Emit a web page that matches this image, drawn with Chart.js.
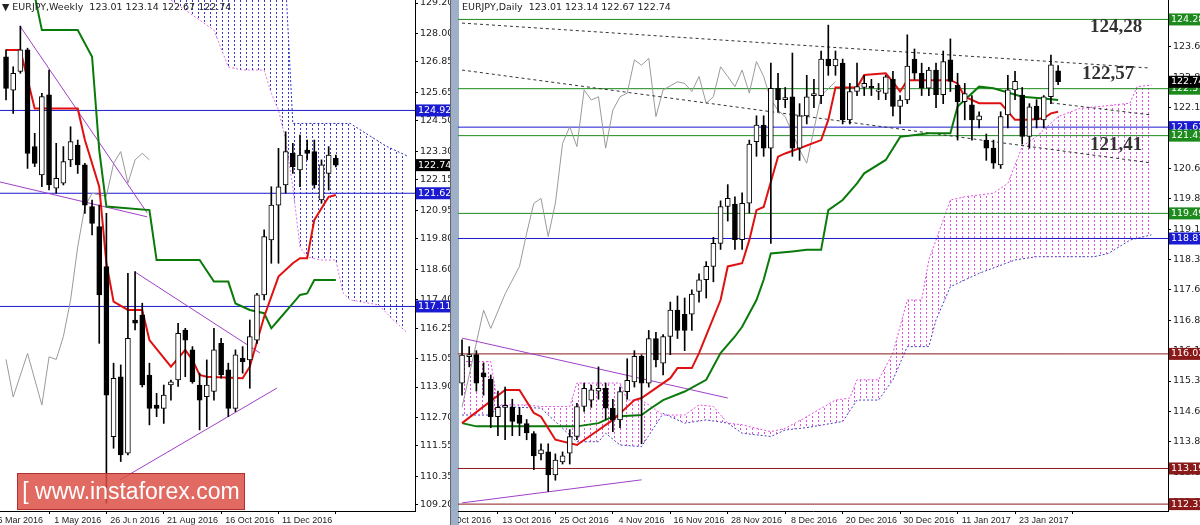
<!DOCTYPE html>
<html><head><meta charset="utf-8">
<script src="https://cdn.jsdelivr.net/npm/chart.js@4.4.0/dist/chart.umd.min.js"></script>
<style>
body{margin:0;width:1200px;height:525px;background:#fff;position:relative;overflow:hidden;font-family:"DejaVu Sans",sans-serif}
#wl{position:absolute;left:0;top:0;width:450px;height:525px}
#dvd{position:absolute;left:450px;top:0;width:8px;height:525px;background:#9db0c8;border-left:1px solid #666}
#rc{position:absolute;left:458px;top:0;width:742px;height:525px;overflow:hidden}
#dl{position:absolute;left:-30px;top:0;width:772px;height:525px}
.hdr{position:absolute;top:1px;font-size:9.5px;color:#222;white-space:pre}
#wm{position:absolute;left:17px;top:473px;width:226px;height:35px;background:rgba(220,80,70,0.85);color:#fff;font:23px "Liberation Sans",Arial,sans-serif;line-height:35px;text-align:center;border:1px solid #b03030}
.big{position:absolute;font:bold 19px "Liberation Serif",serif;color:#333}
</style></head><body>
<canvas id="wl" width="450" height="525"></canvas>
<div id="dvd"></div>
<div id="rc"><canvas id="dl" width="772" height="525"></canvas></div>
<div class="hdr" style="left:2px">▼ EURJPY,Weekly  123.01 123.14 122.67 122.74</div>
<div class="hdr" style="left:462px">EURJPY,Daily  123.01 123.14 122.67 122.74</div>
<div class="big" style="left:1090px;top:15px">124,28</div>
<div class="big" style="left:1082px;top:62px">122,57</div>
<div class="big" style="left:1090px;top:133px">121,41</div>
<div id="wm">[ www.instaforex.com ]</div>
<script>
// ===== Weekly (left) =====
const wOpen=[127.06,125.73,126.47,127.33,123.48,122.35,125.54,121.82,122.02,122.95,123.54,122.75,121.09,120.29,118.7,111.92,114.31,111.26,116.57,116.77,114.38,113.18,113.05,113.98,114.18,116.17,115.38,113.98,113.52,113.72,115.64,114.58,113.05,115.04,114.98,115.77,117.57,119.76,121.15,121.95,123.21,122.55,123.34,123.28,121.35,122.41,123.01];
const wHigh=[127.33,126.66,128.28,127.4,124.01,125.6,126.53,123.61,123.48,124.27,123.74,122.81,121.35,121.15,120.82,114.85,114.78,118.43,118.5,117.24,114.85,113.65,113.98,114.18,116.44,116.24,115.51,114.45,114.98,116.24,115.84,114.85,115.38,115.51,116.57,117.63,120.16,121.88,123.41,124.07,123.61,123.94,123.74,123.74,122.95,123.48,123.14];
const wLow=[125.34,124.8,126.4,122.61,122.68,121.88,121.75,121.62,121.95,122.68,122.41,120.82,119.96,115.64,109.27,111.46,110.93,111.19,116.17,113.9,112.39,112.72,112.45,113.38,113.92,114.31,114.05,112.19,112.32,113.38,114.25,112.72,112.92,114.45,113.85,115.64,117.37,118.83,118.83,121.62,122.41,121.88,122.95,121.82,121.22,121.75,122.67];
const wClose=[125.8,126.4,127.33,123.21,122.81,125.47,121.95,122.21,122.88,123.68,122.75,121.15,120.42,117.57,113.58,114.25,111.19,115.84,116.44,113.98,113.05,113.05,113.58,114.11,116.04,115.77,114.11,113.38,113.98,115.38,114.38,113.05,115.18,114.91,115.91,117.57,119.89,121.15,121.88,123.28,122.68,123.14,123.21,121.95,122.75,123.14,122.74];
const wTenkanX=[0,2,4,10,11,13,14,15,17,19,20,23,25,26,27,28,33,34,36,38,40,41,42,43,45,46];
const wTenkanY=[127.33,127.33,125.0,125.0,123.74,121.88,118.83,117.3,116.97,116.97,115.77,114.71,115.38,114.98,114.38,114.31,114.25,114.71,116.7,118.3,118.83,119.03,119.03,120.56,121.48,121.55];
const wKijunX=[4,5,10,12,13,14,20,21,27,29,31,32,34,36,37,38,40,41,42,43,46];
const wKijunY=[129.5,128.12,128.12,127.06,123.34,121.09,120.95,118.96,118.96,118.1,118.1,117.23,116.97,116.84,116.24,116.57,117.23,117.57,117.63,118.16,118.16];
const wChikouX=[0,1,3,5,6,7,8,9,10,11,12,14,15,16,17,18,19,20];
const wChikouY=[115.0,113.5,115.24,113.18,115.1,115.0,115.91,117.36,119.49,121.09,121.62,121.5,122.81,123.28,122.02,122.95,123.21,122.95];
const wSpanAX=[23,39,40,48,53,56];
const wSpanAY=[130,130,124.4,124.4,123.5,123.1];
const wSpanBX=[23,29,31,33,36,37,38,39,40,41,42,44,46,47,48,52,54,56];
const wSpanBY=[129.32,128.12,126.65,126.53,126.53,125.6,124.94,123.74,121.87,119.48,119.08,118.96,118.96,117.65,117.37,117.17,116.57,116.05];
const wTrend=[[[1.95,128.28],[19.7,120.83]],[[-0.84,122.07],[19.7,120.68]],[[18,118.48],[35.4,115.26]],[[15.9,110.2],[37.8,113.86]]];
const wLevels=[[124.92,'#1a1ad0'],[121.62,'#1a1ad0'],[117.11,'#1a1ad0']];
const wTicks=[129.20,128.00,126.85,125.65,124.50,123.30,122.15,120.95,119.80,118.60,117.40,116.25,115.05,113.90,112.70,111.55,110.35,109.20];
const wTickLabelIdx=[2,10,18,26,34,42];
const wTickLabels=['6 Mar 2016','1 May 2016','26 Jun 2016','21 Aug 2016','16 Oct 2016','11 Dec 2016'];

// ===== Daily (right) =====
const dOpen=[115.3,115.95,116.0,115.55,115.4,114.47,114.7,114.7,114.5,114.3,114.05,113.55,113.6,113.03,113.35,113.57,113.98,114.72,114.88,115.1,115.17,114.68,114.39,115.09,115.33,115.96,115.3,116.4,115.79,116.45,117.1,117.0,117.0,117.56,117.85,118.18,118.75,119.66,119.72,118.84,119.74,121.26,121.67,121.1,122.58,122.3,122.37,121.1,121.9,122.4,122.4,123.3,123.13,123.2,121.8,122.5,122.6,122.63,122.5,122.45,122.8,122.13,122.29,123.3,122.95,122.58,123.03,122.42,123.28,122.65,122.25,122.17,121.8,121.3,121.1,120.69,121.92,122.54,122.41,121.39,122.14,121.8,122.37,123.01];
const dHigh=[116.37,116.2,116.1,115.8,115.5,115.1,115.2,114.9,114.7,114.4,114.1,113.8,113.8,113.55,113.6,114.15,114.8,115.3,115.25,115.7,115.3,114.9,115.2,115.9,116.1,116.0,116.6,116.55,116.5,117.3,117.45,117.4,117.6,118.0,118.3,118.9,119.8,120.2,119.9,120.0,121.3,121.9,121.9,123.2,122.95,122.6,123.45,122.2,122.9,122.8,123.5,124.14,123.5,123.3,122.7,123.2,122.9,122.8,122.7,122.9,123.0,122.4,123.9,123.55,123.2,123.1,123.2,123.5,123.8,122.95,122.7,122.4,122.0,121.45,121.3,122.0,122.9,123.0,122.6,122.2,122.3,122.4,123.4,123.14];
const dLow=[115.0,115.7,115.1,115.0,114.2,114.0,113.9,114.0,114.0,113.9,113.16,113.4,112.62,112.9,113.3,113.3,113.9,114.6,114.7,114.9,114.4,114.1,114.2,114.9,115.2,113.8,115.2,115.7,115.5,116.0,116.4,116.1,116.6,117.3,117.4,117.8,118.6,119.3,118.6,118.6,119.5,120.9,120.9,118.75,122.0,122.1,120.9,120.8,121.7,122.1,122.2,122.9,122.9,121.7,121.7,122.4,122.4,122.4,122.3,122.3,121.9,121.7,122.2,122.8,122.4,122.4,122.1,122.2,122.5,121.3,121.8,121.3,121.6,120.8,120.6,120.6,121.6,122.3,121.2,121.1,121.6,121.6,122.2,122.67];
const dClose=[115.99,116.0,115.3,115.45,114.47,114.7,114.75,114.35,114.3,114.07,113.5,113.65,113.03,113.4,113.5,113.98,114.72,115.17,115.13,115.17,114.68,114.39,115.09,115.37,115.96,115.3,116.4,115.87,116.45,117.1,116.6,116.6,117.5,117.85,118.18,118.75,119.66,119.86,118.84,119.74,121.2,121.67,121.1,122.58,122.3,122.35,121.1,121.9,122.37,122.45,123.3,123.13,123.3,121.8,122.5,122.62,122.7,122.6,122.5,122.86,122.13,122.29,123.13,122.95,122.58,123.03,122.42,123.24,122.75,122.25,122.45,121.8,121.9,121.1,120.73,121.88,122.54,122.75,121.39,122.12,121.8,122.37,123.16,122.74];
const dTenkanX=[0,6,8,10,11,13,16,19,21,24,25,29,30,32,33,36,37,39,40,41,42,44,45,47,50,51,52,55,56,59,60,61,62,68,69,70,72,75,77,79,81,82,83];
const dTenkanY=[114.31,115.13,115.13,114.56,114.47,113.9,113.77,114.14,114.39,114.88,114.93,115.42,115.67,115.67,116.04,117.35,118.18,118.26,118.83,119.57,119.65,120.89,120.97,121.1,121.3,121.8,122.6,122.6,122.91,122.95,122.74,122.5,122.78,122.78,122.7,122.37,122.21,122.21,121.8,121.8,121.84,121.96,122.0];
const dKijunX=[0,2,16,19,21,25,26,28,31,34,36,38,39,41,42,43,46,48,50,51,53,55,56,59,61,65,68,69,72,74,78,81,83];
const dKijunY=[114.31,114.23,114.23,114.31,114.47,114.51,114.64,114.88,115.09,115.38,116.04,116.45,116.69,117.35,117.85,118.5,118.55,118.59,118.59,119.57,119.82,120.23,120.48,120.81,121.38,121.47,121.47,122.13,122.62,122.58,122.37,122.33,122.29];
const dChikouX=[0,3,4,6,8,9,10,11,12,13,14,15,16,17,18,19,20,21,22,23,24,25,26,27,28,30,31,32,33,34,35,36,37,38,39,40,41,42,43,44,45,47,48,50,52];
const dChikouY=[114.7,117.1,116.65,117.5,118.18,119.0,119.74,119.86,118.92,119.74,121.22,121.63,121.14,122.54,122.29,122.37,121.1,122.04,122.37,122.46,123.28,123.15,123.32,121.88,122.54,122.74,122.7,122.5,122.87,122.21,122.37,123.11,122.87,122.62,123.03,122.46,123.24,122.87,122.29,122.04,121.88,121.06,120.73,122.4,122.74];
const dSpanAX=[0,4,5,9,11,15,16,22,23,25,28,31,33,35,37,39,41,43,45,48,52,54,55,58,60,62,64,65,68,70,74,76,78,80,83,86,93,94,96];
const dSpanAY=[115.83,115.83,114.76,114.76,114.72,114.72,115.3,115.3,114.88,114.88,114.51,114.51,114.76,114.72,114.31,114.27,114.18,114.1,114.18,114.47,114.88,114.93,115.38,115.38,116.04,117.35,117.35,118.34,119.82,119.9,119.99,120.23,121.14,121.39,121.88,122.08,122.21,122.62,122.66];
const dSpanBX=[0,4,5,11,16,19,20,22,25,28,31,34,37,39,43,45,48,53,55,58,60,62,65,66,68,72,77,80,88,90,93,96];
const dSpanBY=[114.51,114.51,114.72,114.68,113.85,113.85,114.06,113.77,113.73,114.55,114.31,114.39,114.31,114.06,113.98,114.14,114.2,114.35,114.88,114.88,115.38,116.2,116.2,116.86,117.68,118.01,118.34,118.42,118.42,118.5,118.83,118.96];
const dDashed=[[[0,124.19],[95.8,123.08]],[[0,123.03],[95.8,120.74]],[[82,122.22],[96,121.92]]];
const dPurple=[[[0,116.41],[37,114.93]],[[0,112.34],[25,112.91]]];
const dLevels=[[124.28,'#1d8a1d'],[122.57,'#1d8a1d'],[121.62,'#1a1ad0'],[121.41,'#1d8a1d'],[119.49,'#1d8a1d'],[118.87,'#1a1ad0'],[116.02,'#8a1a1a'],[113.19,'#8a1a1a'],[112.31,'#8a1a1a']];
const dTicks=[123.60,122.85,122.10,121.35,120.60,119.85,119.10,118.35,117.60,116.85,116.10,115.35,114.60,113.85,113.10,112.35];
const dTickLabelIdx=[1,9,17,25,33,41,49,57,65,73,81];
const dTickLabels=['3 Oct 2016','13 Oct 2016','25 Oct 2016','4 Nov 2016','16 Nov 2016','28 Nov 2016','8 Dec 2016','20 Dec 2016','30 Dec 2016','11 Jan 2017','23 Jan 2017'];
const lastPrice=122.74;

function hatch(color){
  const c=document.createElement('canvas');c.width=6;c.height=4;
  const g=c.getContext('2d');g.fillStyle=color;g.fillRect(0,0,1,2);
  return g.createPattern(c,'repeat');
}
function pts(xs,ys){return xs.map((x,i)=>({x:x,y:ys[i]}));}
function build(id,cfg){
  const ctx=document.getElementById(id).getContext('2d');
  const n=cfg.open.length;
  const bodies=[],wicks=[],bodyBg=[];
  for(let i=0;i<n;i++){
    let o=cfg.open[i],c=cfg.close[i];
    if(Math.abs(o-c)<0.04){c=o+(c>=o?0.04:-0.04);}
    bodies.push({x:i,y:[o,c]});wicks.push({x:i,y:[cfg.low[i],cfg.high[i]]});
    bodyBg.push(cfg.close[i]>=cfg.open[i]?'#ffffff':'#000000');
  }
  const ds=[];
  ds.push({type:'line',data:pts(cfg.aX,cfg.aY),borderColor:cfg.cloudA,borderWidth:1,borderDash:[2,2],pointRadius:0,fill:'+1',backgroundColor:hatch(cfg.hatch),order:10});
  ds.push({type:'line',data:pts(cfg.bX,cfg.bY),borderColor:cfg.cloudB,borderWidth:1,borderDash:[2,2],pointRadius:0,fill:false,order:10});
  cfg.levels.forEach(l=>ds.push({type:'line',data:[{x:cfg.xmin,y:l[0]},{x:cfg.xmax,y:l[0]}],borderColor:l[1],borderWidth:1,pointRadius:0,order:9}));
  ds.push({type:'line',data:pts(cfg.chX,cfg.chY),borderColor:'#9a9a9a',borderWidth:1,pointRadius:0,order:8});
  (cfg.trend||[]).forEach(t=>ds.push({type:'line',data:t.map(p=>({x:p[0],y:p[1]})),borderColor:'#a040c8',borderWidth:1,pointRadius:0,order:7}));
  (cfg.dashed||[]).forEach(t=>ds.push({type:'line',data:t.map(p=>({x:p[0],y:p[1]})),borderColor:'#333',borderWidth:1,borderDash:[3,3],pointRadius:0,order:7}));
  ds.push({type:'line',data:pts(cfg.kX,cfg.kY),borderColor:'#0a7a0a',borderWidth:2,pointRadius:0,order:6});
  ds.push({type:'line',data:pts(cfg.tX,cfg.tY),borderColor:'#e01010',borderWidth:2,pointRadius:0,order:5});
  ds.push({type:'bar',data:wicks,backgroundColor:'#000',barThickness:1,grouped:false,order:4});
  ds.push({type:'bar',data:bodies,backgroundColor:bodyBg,borderColor:'#000',borderWidth:1,borderSkipped:false,barThickness:5,grouped:false,order:3});
  const labelsPlugin={id:'lv',afterDraw(ch){
    const y=ch.scales.y,g=ch.ctx;g.save();g.font='9.5px "DejaVu Sans"';g.textBaseline='middle';
    cfg.levels.concat([[lastPrice,'#000']]).forEach(l=>{const py=y.getPixelForValue(l[0]);
      g.fillStyle=l[1];g.fillRect(y.left+1,py-6,35,12);g.fillStyle='#fff';g.fillText(l[0].toFixed(2),y.left+3,py);});
    g.restore();}};
  new Chart(ctx,{type:'bar',data:{datasets:ds},plugins:[labelsPlugin],options:{
    responsive:false,animation:false,parsing:true,
    layout:{padding:{left:cfg.padL,top:0,right:0,bottom:0}},
    plugins:{legend:{display:false},tooltip:{enabled:false}},
    scales:{
      x:{type:'linear',min:cfg.xmin,max:cfg.xmax,offset:false,
        afterBuildTicks(s){s.ticks=cfg.tIdx.map(v=>({value:v}));},
        afterFit(s){s.height=14;s.paddingLeft=0;s.paddingRight=0;},
        ticks:{autoSkip:false,maxRotation:0,padding:1,font:{size:9,family:'Liberation Sans'},color:'#222',callback:(v)=>{const k=cfg.tIdx.indexOf(v);return k>=0?cfg.tLab[k]:'';}},
        grid:{drawOnChartArea:false,tickLength:3,color:'#000'},border:{color:'#000'}},
      y:{position:'right',min:cfg.ymin,max:cfg.ymax,
        afterBuildTicks(s){s.ticks=cfg.yT.map(v=>({value:v}));},
        afterFit(s){s.width=cfg.yW;s.paddingTop=0;s.paddingBottom=0;},
        ticks:{padding:2,font:{size:9.5,family:'DejaVu Sans'},color:'#222',callback:v=>v.toFixed(2)},
        grid:{drawOnChartArea:false,tickLength:3,color:'#000'},border:{color:'#000'}}
    }}});
}
build('wl',{open:wOpen,high:wHigh,low:wLow,close:wClose,tX:wTenkanX,tY:wTenkanY,kX:wKijunX,kY:wKijunY,chX:wChikouX,chY:wChikouY,
  aX:wSpanAX,aY:wSpanAY,bX:wSpanBX,bY:wSpanBY,cloudA:'#3030c0',cloudB:'#e070e0',hatch:'#3838c8',levels:wLevels,trend:wTrend,
  xmin:-0.84,xmax:57.04,ymin:108.96,ymax:129.32,yT:wTicks,tIdx:wTickLabelIdx,tLab:wTickLabels,padL:0,yW:35});
build('dl',{open:dOpen,high:dHigh,low:dLow,close:dClose,tX:dTenkanX,tY:dTenkanY,kX:dKijunX,kY:dKijunY,chX:dChikouX,chY:dChikouY,
  aX:dSpanAX,aY:dSpanAY,bX:dSpanBX,bY:dSpanBY,cloudA:'#e050e0',cloudB:'#4040c0',hatch:'#e050e0',levels:dLevels,dashed:dDashed,trend:dPurple,
  xmin:-0.56,xmax:98.3,ymin:112.14,ymax:124.76,yT:dTicks,tIdx:dTickLabelIdx,tLab:dTickLabels,padL:30,yW:32});
</script>
</body></html>
